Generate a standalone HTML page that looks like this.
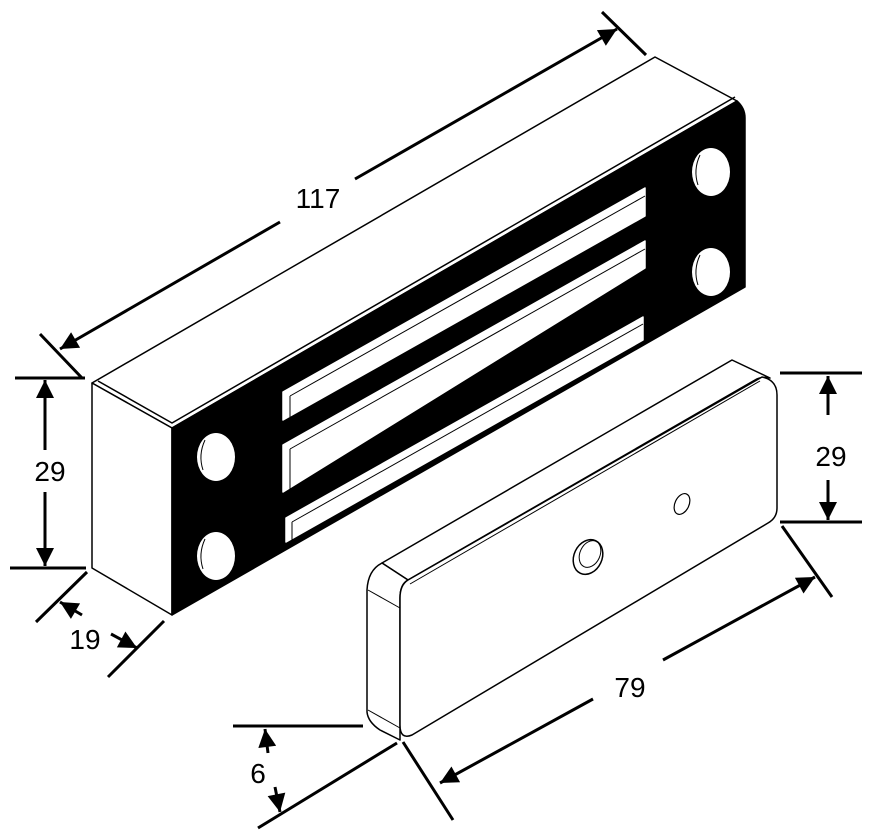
<!DOCTYPE html>
<html><head><style>html,body{margin:0;padding:0;background:#fff}svg{display:block}</style></head>
<body>
<svg width="878" height="839" viewBox="0 0 878 839" xmlns="http://www.w3.org/2000/svg">
<defs>
<marker id="ar" viewBox="0 0 10 10" refX="9" refY="5" markerWidth="8" markerHeight="8" markerUnits="userSpaceOnUse" orient="auto"><path d="M0,0 L10,5 L0,10 z" fill="#000"/></marker>
<marker id="a" viewBox="0 0 10 10" refX="10" refY="5" markerWidth="22" markerHeight="18" markerUnits="userSpaceOnUse" orient="auto"><path d="M0,0 L10,5 L0,10 z" fill="#000"/></marker>
</defs>
<g fill="none" stroke="#000" stroke-width="1.5" stroke-linejoin="round">
<!-- main block -->
<polygon points="92,383 655,57 737,101 172,428" fill="#fff"/>
<polyline points="98,381 172,423 735,97"/>
<polygon points="92,383 172,428 172,615 92,568" fill="#fff"/>
<path d="M172,428 L737,101 Q745,108 745,118 L745,287 L172,615 Z" fill="#000"/>
<!-- slots -->
<polygon points="283,392 645,188 645,216 283,420" fill="#fff" stroke="#fff"/>
<polygon points="283,445 645,241 645,268 283,492" fill="#fff" stroke="#fff"/>
<polygon points="286,518 643,317 643,340 286,542" fill="#fff" stroke="#fff"/>
<line x1="290" y1="396" x2="290" y2="420" stroke="#000" stroke-width="1"/>
<line x1="290" y1="449" x2="290" y2="492" stroke="#000" stroke-width="1"/>
<line x1="292" y1="522" x2="292" y2="542" stroke="#000" stroke-width="1"/>
<line x1="290" y1="396" x2="645" y2="196" stroke="#000" stroke-width="1"/>
<line x1="290" y1="449" x2="645" y2="249" stroke="#000" stroke-width="1"/>
<line x1="292" y1="522" x2="643" y2="324" stroke="#000" stroke-width="1"/>
<!-- holes -->
<ellipse cx="216" cy="457" rx="19" ry="24" fill="#fff" stroke="none"/>
<ellipse cx="216" cy="556" rx="19" ry="24" fill="#fff" stroke="none"/>
<ellipse cx="711" cy="172" rx="19" ry="24" fill="#fff" stroke="none"/>
<ellipse cx="711" cy="272" rx="19" ry="24" fill="#fff" stroke="none"/>
<path d="M205,440 Q198,455 203,470" stroke-width="1"/>
<path d="M205,539 Q198,554 203,569" stroke-width="1"/>
<path d="M700,155 Q693,170 698,185" stroke-width="1"/>
<path d="M700,255 Q693,270 698,285" stroke-width="1"/>
<!-- armature plate -->
<path d="M382,563 L732,360 L770,378 Q762,376 755,380 L408,580 Z" fill="#fff"/>
<path d="M382,563 Q368,570 367,590 L367,712 Q368,722 380,730 L400,740 L400,598 Q400,584 408,580 Z" fill="#fff"/>
<line x1="368" y1="590" x2="400" y2="608" stroke-width="1"/>
<line x1="368" y1="710" x2="400" y2="728" stroke-width="1"/>
<path d="M408,580 L762,377 Q777,380 777,395 L777,508 Q777,518 768,523 L412,735 Q400,740 400,725 L400,598 Q400,585 408,580 Z" fill="#fff"/>
<path d="M410,584 L760,381" stroke-width="1"/>
<ellipse cx="588" cy="557" rx="14" ry="18" transform="rotate(25 588 557)"/>
<ellipse cx="590" cy="554" rx="10" ry="14" transform="rotate(25 590 554)" stroke-width="1"/>
<ellipse cx="682" cy="504" rx="7" ry="11" transform="rotate(25 682 504)" stroke-width="1.2"/>
</g>
<!-- dimensions -->
<g stroke="#000" stroke-width="3" fill="none">
<line x1="40" y1="334" x2="82" y2="378"/>
<line x1="602" y1="12" x2="646" y2="55"/>
<line x1="280" y1="222" x2="60" y2="349" marker-end="url(#a)"/>
<line x1="355" y1="179" x2="617" y2="29" marker-end="url(#a)"/>
<line x1="15" y1="378" x2="85" y2="378"/>
<line x1="10" y1="568" x2="86" y2="568"/>
<line x1="45" y1="450" x2="45" y2="380" marker-end="url(#a)"/>
<line x1="45" y1="492" x2="45" y2="566" marker-end="url(#a)"/>
<line x1="87" y1="572" x2="36" y2="622"/>
<line x1="164" y1="621" x2="108" y2="677"/>
<line x1="82" y1="615" x2="60" y2="602" marker-end="url(#a)"/>
<line x1="111" y1="634" x2="137" y2="648" marker-end="url(#a)"/>
<line x1="780" y1="373" x2="862" y2="373"/>
<line x1="780" y1="522" x2="862" y2="522"/>
<line x1="828" y1="415" x2="828" y2="376" marker-end="url(#a)"/>
<line x1="828" y1="480" x2="828" y2="520" marker-end="url(#a)"/>
<line x1="782" y1="526" x2="832" y2="597"/>
<line x1="403" y1="742" x2="453" y2="820"/>
<line x1="593" y1="699" x2="440" y2="783" marker-end="url(#a)"/>
<line x1="663" y1="660" x2="815" y2="577" marker-end="url(#a)"/>
<line x1="233" y1="726" x2="363" y2="726"/>
<line x1="258" y1="828" x2="397" y2="743"/>
<line x1="268" y1="753" x2="265" y2="729" marker-end="url(#a)"/>
<line x1="275" y1="787" x2="280" y2="812" marker-end="url(#a)"/>
</g>
<g font-family="Liberation Sans, sans-serif" font-size="28" fill="#000" text-anchor="middle">
<text x="318" y="208">117</text>
<text x="50" y="481">29</text>
<text x="85" y="649">19</text>
<text x="831" y="466">29</text>
<text x="630" y="697">79</text>
<text x="258" y="783">6</text>
</g>
</svg>
</body></html>
